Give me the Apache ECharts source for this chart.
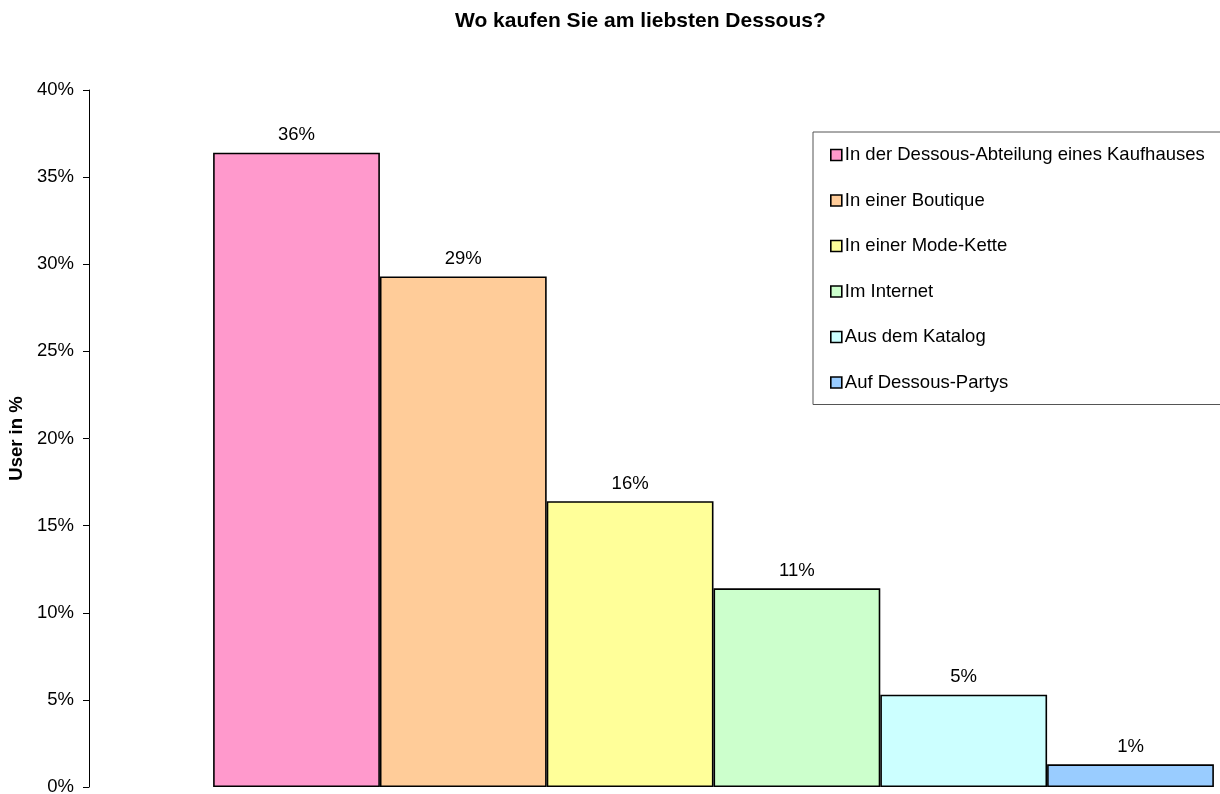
<!DOCTYPE html>
<html>
<head>
<meta charset="utf-8">
<title>Wo kaufen Sie am liebsten Dessous?</title>
<script src="https://cdn.jsdelivr.net/npm/echarts@6/dist/echarts.min.js"></script>
<style>
  html, body { margin: 0; padding: 0; background: #fff; }
  #chart { width: 1220px; height: 794px; }
</style>
</head>
<body>
<div id="chart"></div>
<script>
// Survey answers: where people prefer to buy lingerie (share of users, %)
const channels = [
  'In der Dessous-Abteilung eines Kaufhauses',
  'In einer Boutique',
  'In einer Mode-Kette',
  'Im Internet',
  'Aus dem Katalog',
  'Auf Dessous-Partys'
];
const shares = [36.4, 29.3, 16.4, 11.4, 5.3, 1.3];
const barColors = ['#FF99CC', '#FFCC99', '#FFFF99', '#CCFFCC', '#CCFFFF', '#99CCFF'];
const yTicks = { min: 0, max: 40, step: 5 };

const FONT = '"Liberation Sans", Arial, sans-serif';
const FS = 18.5;

const series = channels.map((name, i) => ({
  name: name,
  type: 'bar',
  data: [shares[i]],
  barWidth: 166.8,
  barGap: '0%',
  itemStyle: { color: barColors[i], borderColor: '#000', borderWidth: 1.6 },
  label: {
    show: true,
    position: 'top',
    distance: 8,
    color: '#000',
    fontSize: FS,
    fontFamily: FONT,
    formatter: p => Math.round(p.value) + '%'
  },
  emphasis: { disabled: true }
}));

const chart = echarts.init(document.getElementById('chart'), null, { renderer: 'canvas' });
chart.setOption({
  animation: false,
  backgroundColor: '#fff',
  title: {
    text: 'Wo kaufen Sie am liebsten Dessous?',
    left: 455,
    top: 11,
    padding: 0,
    textStyle: { fontFamily: FONT, fontSize: 21, fontWeight: 'bold', color: '#000' }
  },
  legend: {
    orient: 'vertical',
    left: 813,
    top: 132,
    padding: [13, 40, 12, 17],
    backgroundColor: '#fff',
    borderColor: '#555',
    borderWidth: 1,
    borderRadius: 0,
    itemWidth: 11,
    itemHeight: 11,
    itemGap: 25.5,
    icon: 'rect',
    itemStyle: { borderColor: '#000', borderWidth: 1.6 },
    textStyle: { fontFamily: FONT, fontSize: FS, color: '#000', lineHeight: 20, padding: [0, 0, 0, -2] },
    data: channels
  },
  // plot area runs past the right edge of the canvas, so the bar group sits right of centre
  grid: { left: 89, top: 90, width: 1249, height: 697, containLabel: false, outerBoundsMode: 'none' },
  xAxis: {
    type: 'category',
    data: [''],
    axisLine: { show: false },
    axisTick: { show: false },
    axisLabel: { show: false }
  },
  yAxis: {
    type: 'value',
    min: yTicks.min,
    max: yTicks.max,
    interval: yTicks.step,
    name: 'User in %',
    nameLocation: 'middle',
    nameRotate: 90,
    nameGap: 61,
    nameTextStyle: { fontFamily: FONT, fontSize: FS, fontWeight: 'bold', color: '#000' },
    axisLine: { show: true, lineStyle: { color: '#000', width: 1 } },
    axisTick: { show: true, inside: false, length: 6, lineStyle: { color: '#000' } },
    axisLabel: { fontFamily: FONT, fontSize: FS, color: '#000', margin: 15, formatter: '{value}%' },
    splitLine: { show: false }
  },
  series: series
});
</script>
</body>
</html>
